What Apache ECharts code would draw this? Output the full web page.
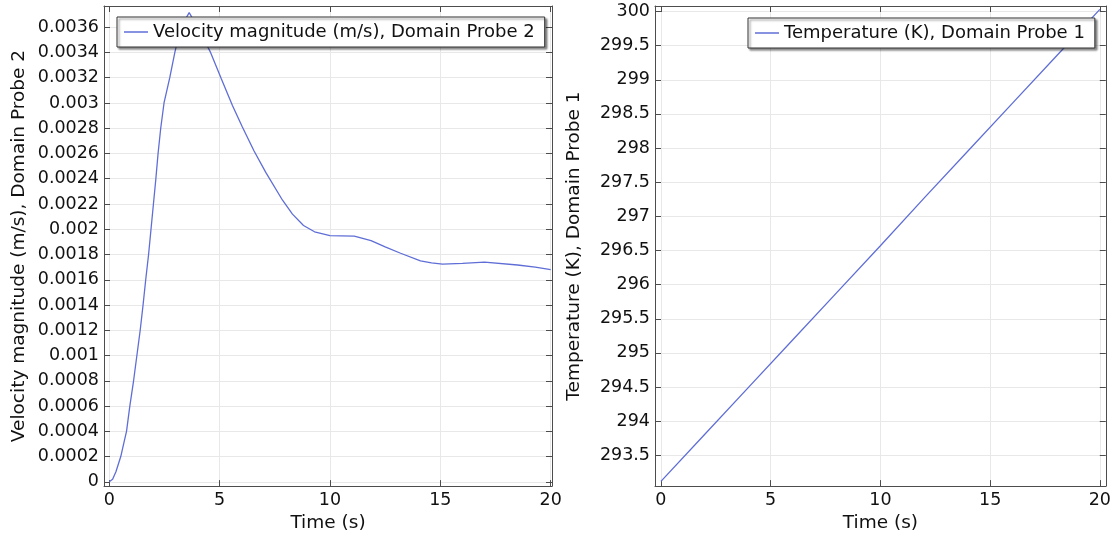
<!DOCTYPE html>
<html>
<head>
<meta charset="utf-8">
<script src="https://cdn.jsdelivr.net/npm/echarts@6/dist/echarts.min.js"></script>
<style>
  html, body { margin: 0; padding: 0; background: #fff; }
  #main { width: 1114px; height: 538px; }
</style>
</head>
<body>
<div id="main"></div>
<script>
// velocity probe (left plot)
var velTime = [0, 0.15, 0.3, 0.52, 0.65, 0.78, 0.93, 1.10, 1.25, 1.40, 1.53, 1.65, 1.78, 1.89, 2.0,
    2.11, 2.21, 2.33, 2.48, 2.74, 2.97, 3.24, 3.62, 4.1, 4.57, 5.08, 5.58, 6.03, 6.56, 7.09, 7.85,
    8.3, 8.8, 9.3, 10.0, 10.5, 11.1, 11.86, 12.5, 13.2, 14.1, 14.6, 15.1, 16.0, 17.0, 18.5, 19.3, 20.0];
var velValues = [0, 0.00002, 0.00008, 0.0002, 0.0003, 0.0004, 0.0006, 0.0008, 0.001, 0.0012, 0.0014,
    0.0016, 0.0018, 0.002, 0.0022, 0.0024, 0.0026, 0.0028, 0.003, 0.0032, 0.0034, 0.0036, 0.003715,
    0.00357, 0.003407, 0.00319, 0.00298, 0.00281, 0.00262, 0.00245, 0.00223, 0.00212, 0.00203,
    0.00198, 0.00195, 0.001948, 0.001945, 0.00191, 0.00186, 0.00181, 0.00175, 0.001733, 0.001724,
    0.00173, 0.00174, 0.001717, 0.0017, 0.00168];

// temperature probe (right plot)
var tempTime = [0, 2, 4, 6, 8, 10, 12, 14, 16, 18, 20];
var tempValues = [293.12, 293.81, 294.5, 295.19, 295.88, 296.57, 297.27, 297.96, 298.65, 299.34, 300.03];

// tick labels
var timeTicks = [0, 5, 10, 15, 20];
var velTicks = [0, 0.0002, 0.0004, 0.0006, 0.0008, 0.001, 0.0012, 0.0014, 0.0016, 0.0018, 0.002,
    0.0022, 0.0024, 0.0026, 0.0028, 0.003, 0.0032, 0.0034, 0.0036];
var tempTicks = [293.5, 294, 294.5, 295, 295.5, 296, 296.5, 297, 297.5, 298, 298.5, 299, 299.5, 300];

var velName = 'Velocity magnitude (m/s), Domain Probe 2';
var tempName = 'Temperature (K), Domain Probe 1';

var myChart = echarts.init(document.getElementById('main'));

var font = 'DejaVu Sans';
var frameColor = '#4d4d4d';
var gridColor = '#e8e8e8';
var lineColor = '#5f6ed6';

function pairs(xs, ys) {
    return xs.map(function (x, i) { return [x, ys[i]]; });
}

// bottom / left axis with labels and grid
function mainAxis(grid, min, max, ticks, pos, name, gap) {
    return {
        type: 'value', gridIndex: grid, position: pos, min: min, max: max,
        name: name, nameLocation: 'middle', nameGap: gap,
        nameTextStyle: { fontFamily: font, fontSize: 18.5, color: '#111' },
        axisLine: { show: true, onZero: false, lineStyle: { color: frameColor, width: 1 } },
        axisTick: { show: true, inside: true, length: 6, customValues: ticks, lineStyle: { color: frameColor } },
        axisLabel: { customValues: ticks, fontFamily: font, fontSize: 17.5, color: '#111', margin: 5 },
        splitLine: { show: true, lineStyle: { color: gridColor, width: 1 } }
    };
}
// top / right axis: frame + inward ticks only
function frameAxis(grid, min, max, ticks, pos) {
    return {
        type: 'value', gridIndex: grid, position: pos, min: min, max: max,
        axisLine: { show: true, onZero: false, lineStyle: { color: frameColor, width: 1 } },
        axisTick: { show: true, inside: true, length: 6, customValues: ticks, lineStyle: { color: frameColor } },
        axisLabel: { show: false },
        splitLine: { show: false }
    };
}

var legendBox = {
    backgroundColor: '#fff',
    borderColor: '#333',
    borderWidth: 1,
    shadowColor: 'rgba(0,0,0,0.45)',
    shadowBlur: 2,
    shadowOffsetX: 2,
    shadowOffsetY: 2,
    padding: [6, 10, 6, 7],
    icon: 'rect',
    itemWidth: 24,
    itemHeight: 1.5,
    itemGap: 5,
    textStyle: { fontFamily: font, fontSize: 18, color: '#111' }
};

option = {
    backgroundColor: '#fff',
    animation: false,
    grid: [
        { left: 104, top: 6, width: 448, height: 482 },
        { left: 655, top: 6, width: 452, height: 482 }
    ],
    legend: [
        Object.assign({ data: [velName], left: 117, top: 17 }, legendBox),
        Object.assign({ data: [tempName], left: 748, top: 18 }, legendBox)
    ],
    xAxis: [
        mainAxis(0, -0.24, 20.06, timeTicks, 'bottom', 'Time (s)', 26),
        frameAxis(0, -0.24, 20.06, timeTicks, 'top'),
        mainAxis(1, -0.27, 20.27, timeTicks, 'bottom', 'Time (s)', 26),
        frameAxis(1, -0.27, 20.27, timeTicks, 'top')
    ],
    yAxis: [
        mainAxis(0, -0.000034, 0.003768, velTicks, 'left', velName, 75),
        frameAxis(0, -0.000034, 0.003768, velTicks, 'right'),
        mainAxis(1, 293.05, 300.08, tempTicks, 'left', tempName, 71),
        frameAxis(1, 293.05, 300.08, tempTicks, 'right')
    ],
    series: [
        {
            name: velName, type: 'line', xAxisIndex: 0, yAxisIndex: 0,
            data: pairs(velTime, velValues),
            symbol: 'none', smooth: false,
            lineStyle: { color: lineColor, width: 1.3 },
            itemStyle: { color: lineColor }
        },
        {
            name: tempName, type: 'line', xAxisIndex: 2, yAxisIndex: 2,
            data: pairs(tempTime, tempValues),
            symbol: 'none', smooth: false,
            lineStyle: { color: lineColor, width: 1.3 },
            itemStyle: { color: lineColor }
        }
    ]
};
myChart.setOption(option);
</script>
</body>
</html>
